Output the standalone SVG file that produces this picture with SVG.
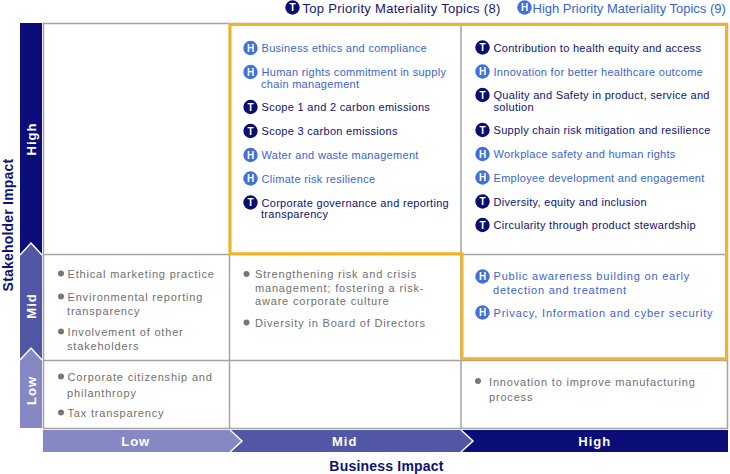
<svg xmlns="http://www.w3.org/2000/svg" width="730" height="474" viewBox="0 0 730 474">
<defs>
<style>
text{font-family:"Liberation Sans",Arial,sans-serif;}
.t{font-size:11px;letter-spacing:0.3px;fill:#0e1272;}
.h{font-size:11px;letter-spacing:0.3px;fill:#3a64d0;}
.hw{letter-spacing:0.8px;}
.g{font-size:11px;letter-spacing:0.82px;fill:#6f6f6f;}
.ax{font-size:13px;font-weight:bold;fill:#fff;letter-spacing:1px;text-anchor:middle;}
.ttl{font-size:14px;font-weight:bold;fill:#0e1272;letter-spacing:0.2px;text-anchor:middle;}
.leg{font-size:13px;}
.ci{font-size:10px;font-weight:bold;fill:#fff;text-anchor:middle;}
.ct{fill:#0b0e6e;}
.chh{fill:#4170d6;}
.bul{fill:#777;}
.grid{fill:none;stroke:#a3a3a3;stroke-width:1.5;}
.sep{fill:none;stroke:#fff;stroke-width:1.5;}
</style>
<g id="iconT"><circle class="ct" cx="0" cy="0" r="7.2"/><text class="ci" x="0" y="3.6">T</text></g>
<g id="iconH"><circle class="chh" cx="0" cy="0" r="7.2"/><text class="ci" x="0" y="3.6">H</text></g>
</defs>
<rect width="730" height="474" fill="#fff"/>

<g id="legend">
<use href="#iconT" x="292.5" y="7.5"/>
<text class="leg" x="302.5" y="12.5" fill="#15186e" letter-spacing="0.3">Top Priority Materiality Topics (8)</text>
<use href="#iconH" x="524.5" y="7.5"/>
<text class="leg" x="532.5" y="12.5" fill="#3a64d0" letter-spacing="0">High Priority Materiality Topics (9)</text>
</g>

<g id="grid">
<rect class="grid" x="43.5" y="23.5" width="684" height="405"/>
<line class="grid" x1="229.5" y1="23.5" x2="229.5" y2="428.5"/>
<line class="grid" x1="461" y1="23.5" x2="461" y2="428.5"/>
<line class="grid" x1="43.5" y1="254.5" x2="727.5" y2="254.5"/>
<line class="grid" x1="43.5" y1="360.5" x2="727.5" y2="360.5"/>
</g>

<g id="y-axis">
<rect x="20" y="23" width="22" height="232" fill="#0b0e78"/>
<polygon points="20,255 31,243 42,255 42,361 20,361" fill="#5157a5"/>
<polyline class="sep" points="20,255 31,243 42,255"/>
<polygon points="20,360 31,348 42,360 42,428 20,428" fill="#8588c3"/>
<polyline class="sep" points="20,360 31,348 42,360"/>
<text class="ax" transform="translate(35.5,139) rotate(-90)">High</text>
<text class="ax" transform="translate(35.5,306) rotate(-90)">Mid</text>
<text class="ax" transform="translate(35.5,390.5) rotate(-90)">Low</text>
<text class="ttl" transform="translate(13,225) rotate(-90)">Stakeholder Impact</text>
</g>

<g id="x-axis">
<rect x="450" y="430" width="278" height="22" fill="#0b0e78"/>
<polygon points="225,430 461,430 473,441 461,452 225,452" fill="#5157a5"/>
<polyline class="sep" points="461,430 473,441 461,452"/>
<polygon points="43,430 230,430 242,441 230,452 43,452" fill="#8588c3"/>
<polyline class="sep" points="230,430 242,441 230,452"/>
<text class="ax" x="135.7" y="446">Low</text>
<text class="ax" x="344.7" y="446">Mid</text>
<text class="ax" x="594.7" y="446">High</text>
<text class="ttl" x="386.5" y="470.5">Business Impact</text>
</g>

<g id="priority-outline">
<path d="M230,24.5 H726.5 V358.7 H462 V253.7 H230 Z" fill="none" stroke="#f0b424" stroke-width="3"/>
</g>

<g id="cell-high-mid">
<use href="#iconH" x="250.5" y="48"/>
<text class="h" x="261.5" y="52">Business ethics and compliance</text>
<use href="#iconH" x="250.5" y="72"/>
<text class="h" x="261.5" y="76">Human rights commitment in supply</text>
<text class="h" x="261" y="87.5">chain management</text>
<use href="#iconT" x="250.5" y="107"/>
<text class="t" x="261.5" y="111">Scope 1 and 2 carbon emissions</text>
<use href="#iconT" x="250.5" y="131"/>
<text class="t" x="261.5" y="135">Scope 3 carbon emissions</text>
<use href="#iconH" x="250.5" y="155"/>
<text class="h" x="261.5" y="159">Water and waste management</text>
<use href="#iconH" x="250.5" y="178.5"/>
<text class="h" x="261.5" y="182.5">Climate risk resilience</text>
<use href="#iconT" x="250.5" y="202.5"/>
<text class="t" x="261.5" y="206.5">Corporate governance and reporting</text>
<text class="t" x="261" y="218">transparency</text>
</g>

<g id="cell-high-high">
<use href="#iconT" x="482.5" y="47.5"/>
<text class="t" x="493.5" y="51.5">Contribution to health equity and access</text>
<use href="#iconH" x="482.5" y="71.5"/>
<text class="h" x="493.5" y="75.5">Innovation for better healthcare outcome</text>
<use href="#iconT" x="482.5" y="95"/>
<text class="t" x="493.5" y="99">Quality and Safety in product, service and</text>
<text class="t" x="493.5" y="110.5">solution</text>
<use href="#iconT" x="482.5" y="130"/>
<text class="t" x="493.5" y="134">Supply chain risk mitigation and resilience</text>
<use href="#iconH" x="482.5" y="154"/>
<text class="h" x="493.5" y="158">Workplace safety and human rights</text>
<use href="#iconH" x="482.5" y="177.5"/>
<text class="h" x="493.5" y="181.5">Employee development and engagement</text>
<use href="#iconT" x="482.5" y="201.5"/>
<text class="t" x="493.5" y="205.5">Diversity, equity and inclusion</text>
<use href="#iconT" x="482.5" y="225"/>
<text class="t" x="493.5" y="229">Circularity through product stewardship</text>
</g>

<g id="cell-mid-low">
<circle class="bul" cx="61" cy="273.5" r="3"/>
<text class="g" x="67.5" y="278">Ethical marketing practice</text>
<circle class="bul" cx="61" cy="296.5" r="3"/>
<text class="g" x="67.5" y="301">Environmental reporting</text>
<text class="g" x="67" y="314.5">transparency</text>
<circle class="bul" cx="61" cy="331.5" r="3"/>
<text class="g" x="67.5" y="336">Involvement of other</text>
<text class="g" x="67" y="349.5">stakeholders</text>
</g>

<g id="cell-low-low">
<circle class="bul" cx="61" cy="376.5" r="3"/>
<text class="g" x="67.5" y="381">Corporate citizenship and</text>
<text class="g" x="67" y="396.5">philanthropy</text>
<circle class="bul" cx="61" cy="412.5" r="3"/>
<text class="g" x="67.5" y="416.5">Tax transparency</text>
</g>

<g id="cell-mid-mid">
<circle class="bul" cx="246.5" cy="274" r="3"/>
<text class="g" x="255" y="278">Strengthening risk and crisis</text>
<text class="g" x="255" y="291.5">management; fostering a risk-</text>
<text class="g" x="255" y="305">aware corporate culture</text>
<circle class="bul" cx="246.5" cy="322.5" r="3"/>
<text class="g" x="255" y="326.5">Diversity in Board of Directors</text>
</g>

<g id="cell-mid-high">
<use href="#iconH" x="482.5" y="276.5"/>
<text class="h hw" x="493.5" y="280">Public awareness building on early</text>
<text class="h hw" x="493" y="294">detection and treatment</text>
<use href="#iconH" x="482.5" y="312.5"/>
<text class="h hw" x="493.5" y="316.5">Privacy, Information and cyber security</text>
</g>

<g id="cell-low-high">
<circle class="bul" cx="478" cy="381" r="3"/>
<text class="g" x="489" y="385.5">Innovation to improve manufacturing</text>
<text class="g" x="489" y="401">process</text>
</g>
</svg>
